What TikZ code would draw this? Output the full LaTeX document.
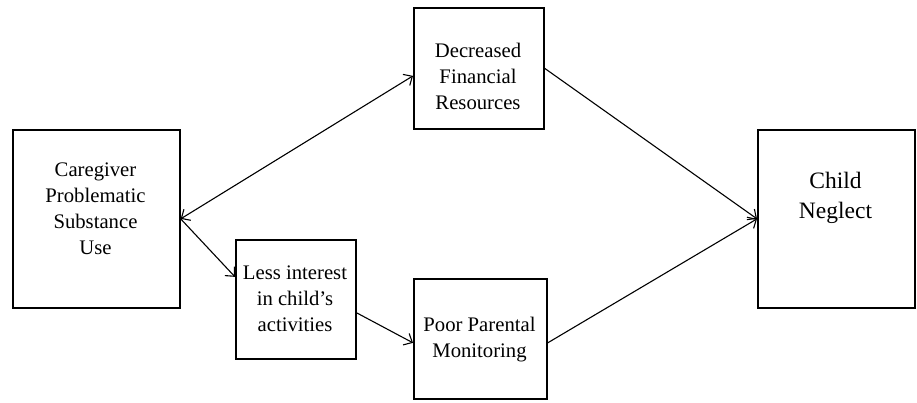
\documentclass[tikz,border=0pt]{standalone}
\usepackage{fontspec}
\setmainfont{Liberation Serif}
\usetikzlibrary{arrows.meta}
\begin{document}
\begin{tikzpicture}[x=1pt,y=-1pt,
  box/.style={draw,line width=1.7pt,inner sep=0pt,anchor=north west},
  label text/.style={align=center,font=\fontsize{20.7}{26}\selectfont,inner sep=0pt},
  big text/.style={align=center,font=\fontsize{23.5}{30}\selectfont,inner sep=0pt},
  link/.style={line width=1.1pt,-{Straight Barb[length=7pt,width=13pt,line width=1.1pt]}},
  twoway/.style={line width=1.1pt,{Straight Barb[length=7pt,width=13pt,line width=1.1pt]}-{Straight Barb[length=7pt,width=13pt,line width=1.1pt]}}]
  \useasboundingbox (0,0) rectangle (917,402);

  % boxes
  \node[box,minimum width=167pt,minimum height=178pt] (cg) at (12,129) {};
  \node[box,minimum width=130pt,minimum height=121pt] (dfr) at (413,7) {};
  \node[box,minimum width=120pt,minimum height=119pt] (li) at (235,239) {};
  \node[box,minimum width=133pt,minimum height=120pt] (ppm) at (413,278) {};
  \node[box,minimum width=157pt,minimum height=178pt] (cn) at (757,129) {};

  % box texts
  \node[label text] (cgt) at (95.5,209) {Caregiver\\Problematic\\Substance\\Use};
  \node[label text] (dfrt) at (478,76) {Decreased\\Financial\\Resources};
  \node[label text] (lit) at (295,299) {Less interest\\in child’s\\activities};
  \node[label text] (ppmt) at (479.5,340) {Poor Parental\\Monitoring};
  \node[big text] (cnt) at (835.5,198) {Child\\Neglect};

  % connectors (shifts are in page direction: negative moves down)
  \draw[twoway] (cg.east) -- ([yshift=-7.5pt]dfr.west);
  \draw[link] (cg.east) -- ([yshift=22.5pt]li.west);
  \draw[link] ([yshift=-13.5pt]li.east) -- ([yshift=-4pt]ppm.west);
  \draw[link] (dfr.east) -- (cn.west);
  \draw[link] ([yshift=-4pt]ppm.east) -- (cn.west);
\end{tikzpicture}
\end{document}
